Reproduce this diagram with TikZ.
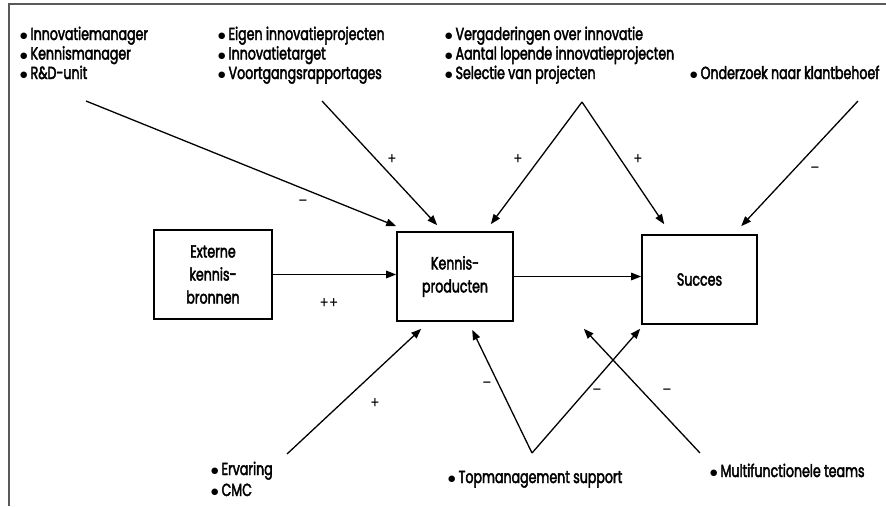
\documentclass[tikz,border=0pt]{standalone}
\usepackage{fontspec}
\setmainfont[FakeStretch=0.72,FakeBold=2.4]{Poppins}
\newfontfamily\sgnfam[FakeStretch=0.85]{Poppins}
\newfontfamily\dotfam{DejaVu Sans}
\usetikzlibrary{arrows.meta,calc}
\newcommand\lstfont{\fontsize{17.5}{20}\selectfont}
\newcommand\boxfont{\fontsize{17.5}{23}\selectfont}
\newcommand\sgnfont{\sgnfam\fontsize{16}{16}\selectfont}
\newcommand\bul{\raisebox{1.2pt}{\dotfam\fontsize{8.5}{8.5}\selectfont ●}\hspace{3pt}}
\begin{document}
\begin{tikzpicture}[x=1pt,y=-1pt,
  arr/.style={line width=1.3pt,-{Triangle[length=10pt,width=7.5pt]}},
  box/.style={draw,line width=1.6pt,inner sep=0pt,align=center,font=\boxfont},
  lst/.style={anchor=base west,inner sep=0pt,font=\lstfont},
  sgn/.style={inner sep=0pt,font=\sgnfont},
  frame/.style={draw=black!65,line width=1.6pt}]
\useasboundingbox (0,0) rectangle (886,506);
\draw[frame] (9,506) -- (9,4) -- (886,4);
% boxes
\node[box,minimum width=118pt,minimum height=89pt] (ext) at (213,274.5) {Externe\\kennis-\\bronnen};
\node[box,minimum width=116pt,minimum height=89pt] (kp) at (455,276.5) {Kennis-\\producten};
\node[box,minimum width=115pt,minimum height=89pt] (suc) at (699.5,279.5) {Succes};
% top lists
\node[lst] (l11) at (20,40) {\bul Innovatiemanager};
\node[lst] (l12) at (20,59.5) {\bul Kennismanager};
\node[lst] (l13) at (20,79) {\bul R\&D-unit};
\node[lst] (l21) at (218,40) {\bul Eigen innovatieprojecten};
\node[lst] (l22) at (218,59.5) {\bul Innovatietarget};
\node[lst] (l23) at (218,79) {\bul Voortgangsrapportages};
\node[lst] (l31) at (445,40) {\bul Vergaderingen over innovatie};
\node[lst] (l32) at (445,59.5) {\bul Aantal lopende innovatieprojecten};
\node[lst] (l33) at (445,79) {\bul Selectie van projecten};
\node[lst] (l41) at (690,79) {\bul Onderzoek naar klantbehoef};
% bottom lists
\node[lst] (b11) at (211,475) {\bul Ervaring};
\node[lst] (b12) at (211,496) {\bul CMC};
\node[lst] (b21) at (448,483) {\bul Topmanagement support};
\node[lst] (b31) at (710,477) {\bul Multifunctionele teams};
% arrow start points
\coordinate (s1) at (86,101);
\coordinate (s2) at (322,101);
\coordinate (s3) at (582,102);
\coordinate (s4) at (858,101);
\coordinate (s5) at (287,454);
\coordinate (s6) at (532,453);
\coordinate (s7) at (700,453);
% connectors
\draw[arr] (ext.east) -- (ext.east -| kp.west);
\draw[arr] (kp.east) -- (kp.east -| suc.west);
\draw[arr] (s1) -- ($(kp.north west)+(0,-5)$);
\draw[arr] (s2) -- ($(kp.north west)+(41,-6)$);
\draw[arr] (s3) -- ($(kp.north east)+(-23,-7)$);
\draw[arr] (s3) -- ($(suc.north west)+(23,-10)$);
\draw[arr] (s4) -- ($(suc.north west)+(100,-8)$);
\draw[arr] (s5) -- ($(kp.south west)+(25,7)$);
\draw[arr] (s6) -- ($(kp.south west)+(76,8)$);
\draw[arr] (s6) -- ($(suc.south west)+(-1,4)$);
\draw[arr] (s7) -- ($(kp.south east)+(70,7)$);
% signs
\node[sgn] (g1) at (303,203) {–};
\node[sgn] (g2) at (392,160) {+};
\node[sgn] (g3) at (518,160) {+};
\node[sgn] (g4) at (638,160) {+};
\node[sgn] (g5) at (815,170) {–};
\node[sgn] (g6) at (329,304) {++};
\node[sgn] (g7) at (375,404) {+};
\node[sgn] (g8) at (487,385) {–};
\node[sgn] (g9) at (597,392) {–};
\node[sgn] (g10) at (667,392) {–};
\end{tikzpicture}
\end{document}
